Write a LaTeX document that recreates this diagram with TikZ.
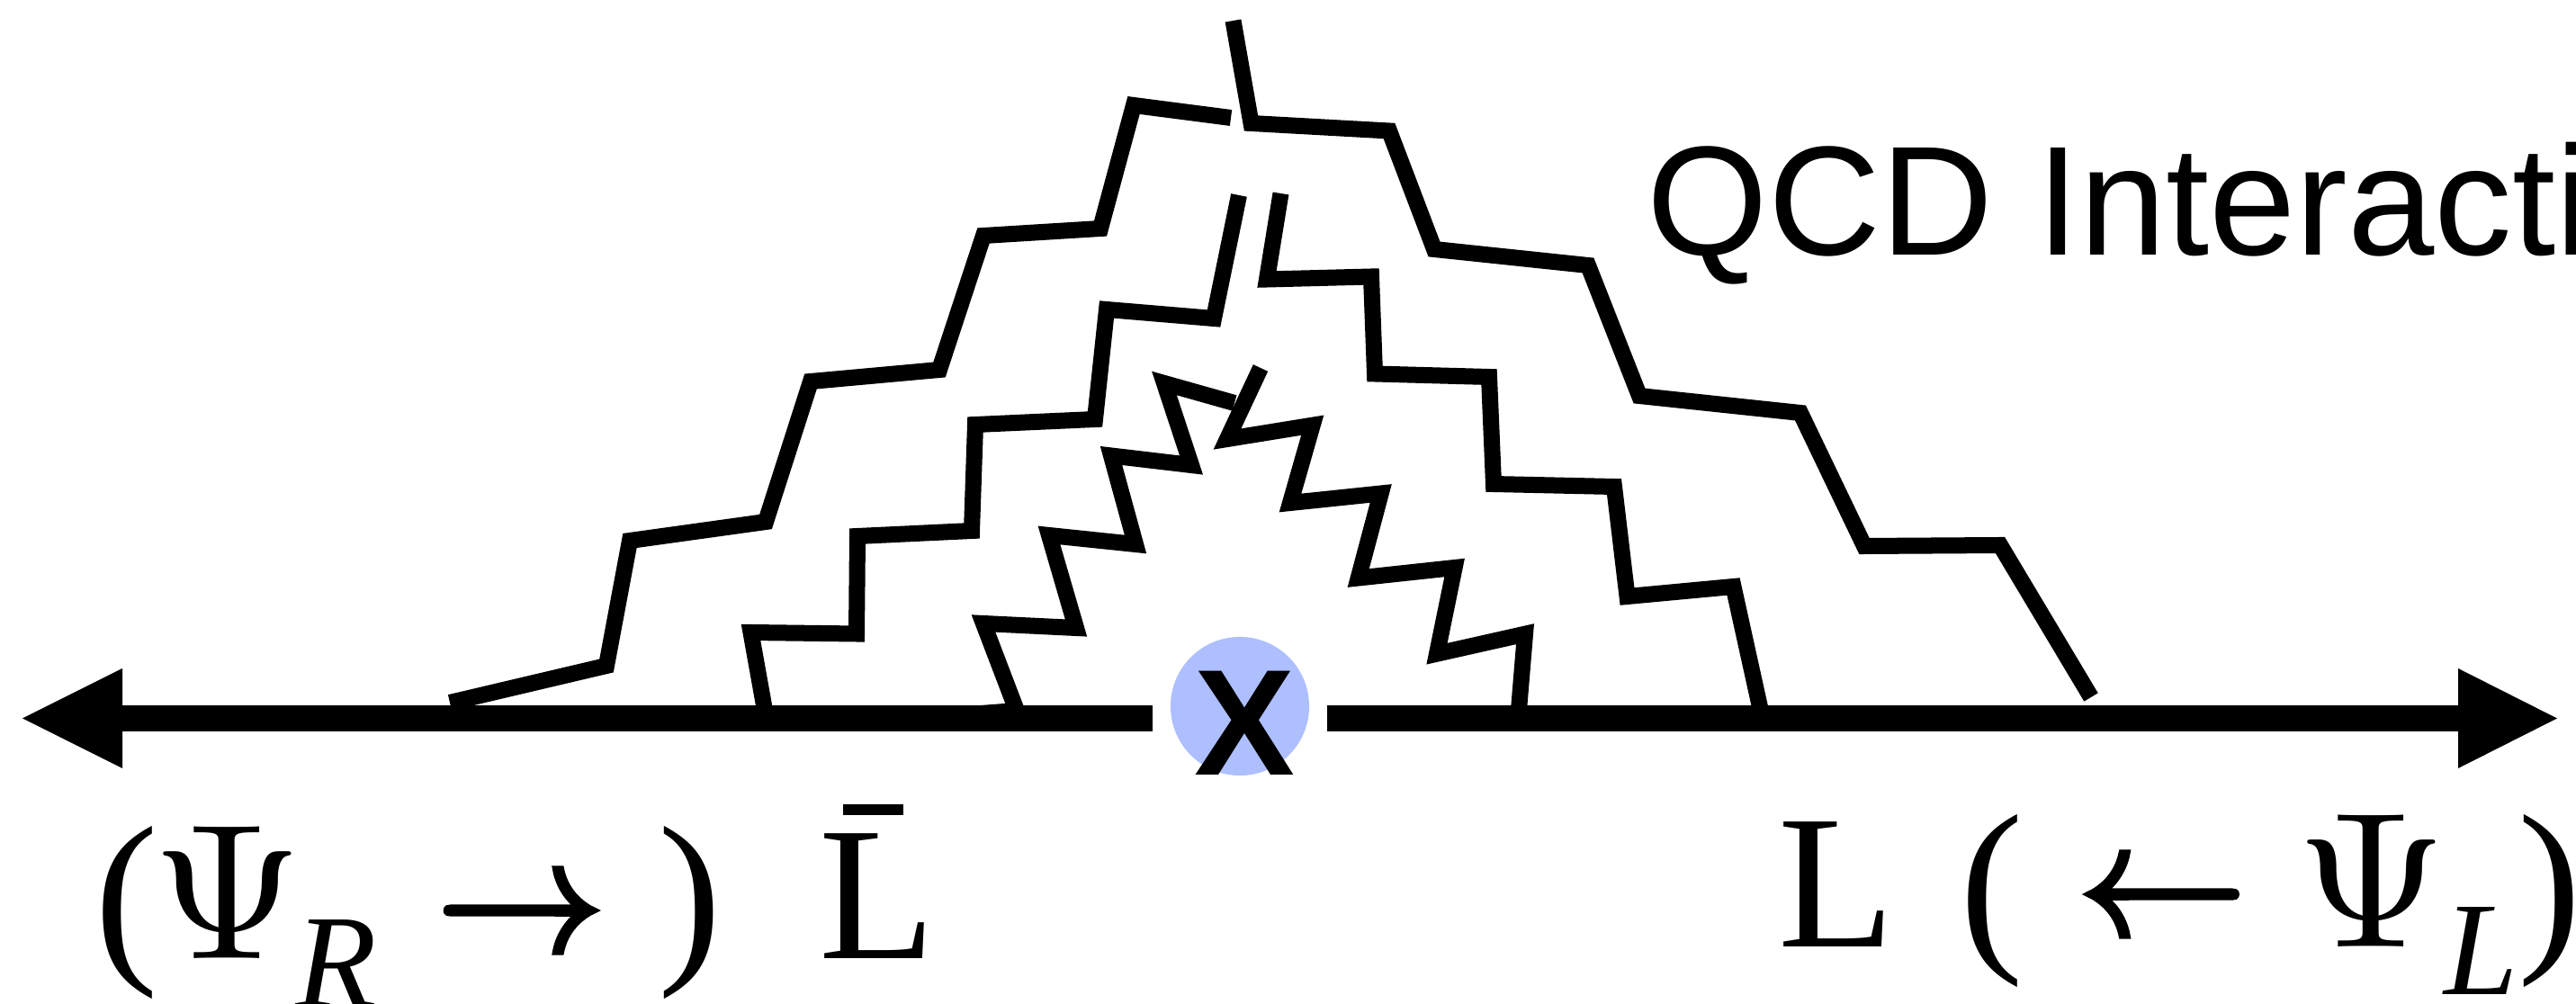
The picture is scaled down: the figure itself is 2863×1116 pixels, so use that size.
\documentclass[tikz,border=0pt]{standalone}
\usepackage{fontspec}
\setmainfont{Liberation Serif}
\newfontfamily\qcdsans{Liberation Sans}
\newfontfamily\arrowfont[FakeBold=3]{lmroman10-regular.otf}
\newfontfamily\psifont{lmroman10-regular.otf}
\definecolor{vblue}{RGB}{174,191,255}
\begin{document}
\begin{tikzpicture}[x=0.01cm,y=-0.01cm,
  gluon/.style={line width=0.18cm, line join=miter, line cap=butt},
  fermion/.style={line width=0.29cm, line cap=butt},
  glyph/.style={inner sep=0pt, anchor=base, font=\fontsize{60.3}{60.3}\selectfont},
  psiglyph/.style={inner sep=0pt, anchor=base, font=\psifont\fontsize{61}{61}\selectfont},
  subglyph/.style={inner sep=0pt, anchor=base, font=\fontsize{42.1}{42.1}\selectfont\itshape},
  arrowglyph/.style={inner sep=0pt, anchor=base, font=\arrowfont\fontsize{53.2}{53.2}\selectfont},
]
\useasboundingbox (0,0) rectangle (2863,1116);
\clip (0,0) rectangle (2863,1116);

% gluon-like stair lines
\draw[gluon] (500,781) -- (674,740) -- (700,601) -- (851,580) -- (901,424) -- (1044,411)
  -- (1093,262) -- (1223,254) -- (1260,117) -- (1368,131);
\draw[gluon] (1370.5,23) -- (1390.5,137) -- (1544,145.5) -- (1594,277) -- (1765,295)
  -- (1822,440) -- (2001,459) -- (2072,607) -- (2223,606) -- (2324,775);
\draw[gluon] (851,795) -- (834.5,703) -- (952,704.5) -- (953,596) -- (1080,590)
  -- (1084,472) -- (1217,466) -- (1230,344) -- (1349,354) -- (1377,217);
\draw[gluon] (1423.5,215) -- (1408,310.5) -- (1524,307.5) -- (1528,415.5) -- (1655,419)
  -- (1660,538) -- (1794,541) -- (1808.5,663) -- (1926.5,652) -- (1958,795);
\draw[gluon] (1050,796) -- (1130,790) -- (1093,693) -- (1196,698) -- (1166,595)
  -- (1262,605) -- (1235,506.5) -- (1324,517) -- (1294,426) -- (1372,448);
\draw[gluon] (1401,409) -- (1364,488) -- (1458.7,472.7) -- (1434,559) -- (1534.7,548.5)
  -- (1509.7,642.5) -- (1616.6,631) -- (1597,726.7) -- (1695,704.7) -- (1687.5,795);

% fermion line with arrowheads
\coordinate (Ltip) at (25,798.5);
\coordinate (Lbase) at (136,798.5);
\coordinate (Lend) at (1281,798.5);
\coordinate (Rstart) at (1475,798.5);
\coordinate (Rbase) at (2732,798.5);
\coordinate (Rtip) at (2842,798.5);
\draw[fermion] (Lbase) -- (Lend);
\draw[fermion] (Rstart) -- (Rbase);
\fill (136,743) -- (Ltip) -- (136,854) -- cycle;
\fill (2732,743) -- (Rtip) -- (2732,854) -- cycle;

% vertex
\node[circle, fill=vblue, minimum size=1.54cm, inner sep=0pt] (vtx) at (1378,785) {};
\node[inner sep=0pt, anchor=base, font=\qcdsans\bfseries\fontsize{47.7}{47.7}\selectfont] (xmark) at (1383.5,862) {X};

% title
\node[anchor=base west, inner sep=0pt, font=\qcdsans\fontsize{49.2}{49.2}\selectfont] (qcd) at (1830,283.3) {QCD Interactions};

% left label
\node[glyph] (lpL) at (140.8,1065) {(};
\node[psiglyph] (psiR) at (252.5,1065) {Ψ};
\node[subglyph] (subR) at (373.7,1119) {R};
\node[arrowglyph] (arrR) at (578.8,1059) {→};
\node[glyph] (rpL) at (767,1065) {)};
\node[glyph, anchor=base west] (Lbar) at (909.5,1065) {\rlap{\hspace{0.27cm}\rule[1.593cm]{0.665cm}{0.117cm}}L};

% right label
\node[glyph] (Lright) at (2041.6,1052) {L};
\node[glyph] (lpR) at (2213.3,1052) {(};
\node[arrowglyph] (arrL) at (2403,1041) {←};
\node[psiglyph] (psiL) at (2636.4,1052) {Ψ};
\node[subglyph] (subL) at (2757.8,1105) {L};
\node[glyph] (rpR) at (2833.5,1052) {)};
\end{tikzpicture}
\end{document}
